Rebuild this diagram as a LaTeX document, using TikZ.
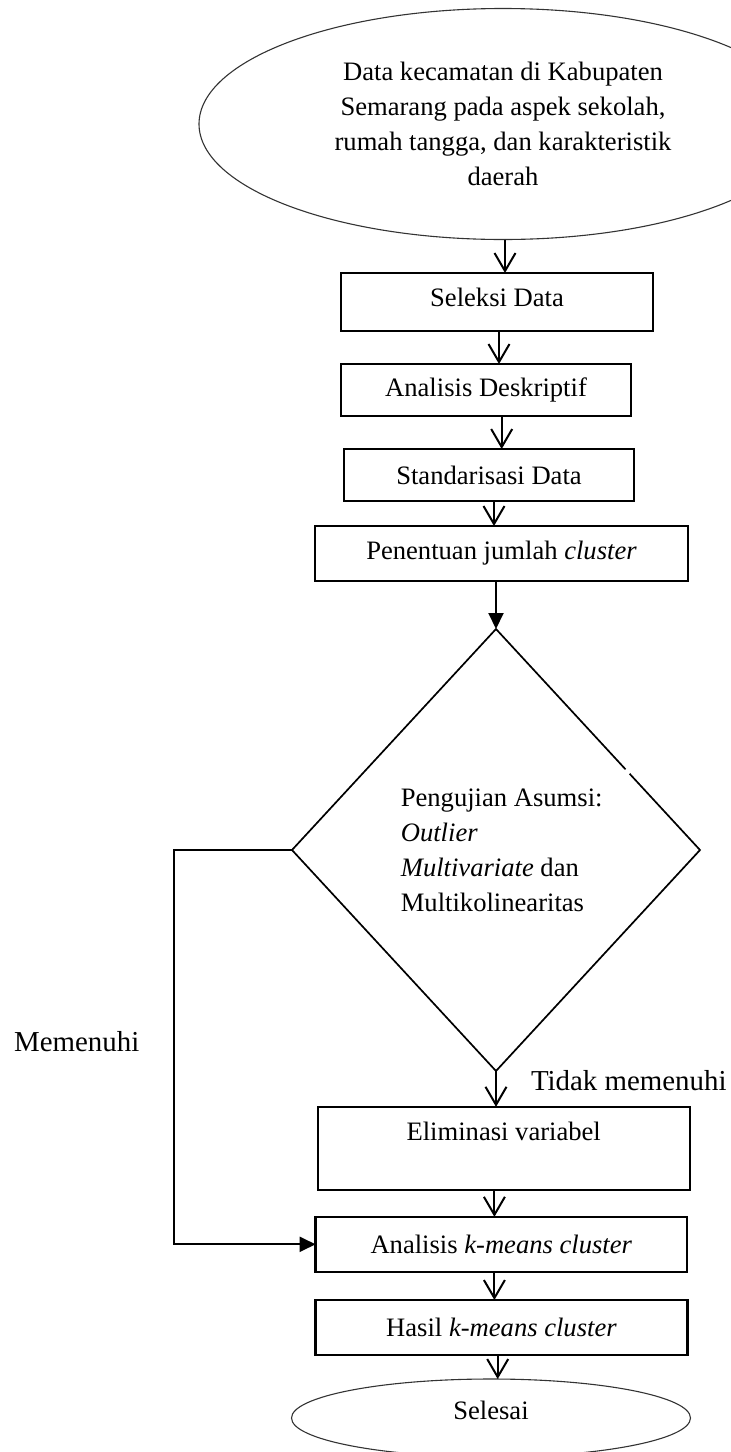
\documentclass[tikz,border=0pt]{standalone}
\usepackage{fontspec}
\setmainfont{Liberation Serif}
\usetikzlibrary{shapes.geometric,arrows.meta,calc}
\begin{document}
\begin{tikzpicture}[x=0.5pt,y=-0.5pt,
  boxtxt/.style={font=\fontsize{13.3}{17.5}\selectfont},
  box/.style={boxtxt, draw, line width=1.2pt, rectangle, inner sep=0pt, outer sep=0pt},
  oval/.style={boxtxt, draw=black!80, line width=0.55pt, ellipse, inner sep=0pt, outer sep=0pt},
  arr/.style={line width=1pt, -{Straight Barb[length=9pt,width=10.5pt]}},
  arrF/.style={line width=1pt, -{Triangle[length=8pt,width=7.5pt]}},
  lbl/.style={font=\fontsize{14.45}{17}\selectfont, inner sep=0pt}
]
\useasboundingbox (0,0) rectangle (731,1452);
\clip (0,0) rectangle (731,1452);

% nodes
\node[oval, minimum width=304pt, minimum height=115.5pt, align=center] (src) at (503,124)
  {Data kecamatan di Kabupaten\\Semarang pada aspek sekolah,\\rumah tangga, dan karakteristik\\daerah};
\node[box, minimum width=156pt, minimum height=29pt, text depth=4.5pt] (sel) at (497,302) {Seleksi Data};
\node[box, minimum width=145pt, minimum height=26pt] (ana) at (486,390) {Analisis Deskriptif};
\node[box, minimum width=145pt, minimum height=26pt] (std) at (489,475) {Standarisasi Data};
\node[box, minimum width=186.5pt, minimum height=27.5pt] (pen) at (501.5,553.5) {Penentuan jumlah \textit{cluster}};
\node[diamond, minimum width=204pt, minimum height=221pt, inner sep=0pt, outer sep=0pt] (dec) at (496,850) {};
\node[boxtxt, align=left, inner sep=0pt] (dectext) at ([xshift=2.85pt]dec.center)
  {Pengujian Asumsi:\\\textit{Outlier}\\\textit{Multivariate} dan\\Multikolinearitas};
\node[box, minimum width=186pt, minimum height=41.5pt, text depth=16.6pt] (elim) at (503.7,1148.3) {Eliminasi variabel};
\node[box, minimum width=185.7pt, minimum height=27.5pt] (km) at (501.3,1244.3) {Analisis \textit{k-means cluster}};
\node[box, minimum width=186pt, minimum height=27.5pt] (has) at (501.5,1327.5) {Hasil \textit{k-means cluster}};
\node[oval, minimum width=199.5pt, minimum height=39pt, text depth=8pt] (fin) at (491,1418) {Selesai};

\node[lbl, anchor=base] (yes) at (76.7,1051.7) {Memenuhi};
\node[lbl, anchor=base] (no) at (628.8,1090.7) {Tidak memenuhi};

% diamond outline (with the small gap on the upper right edge)
\draw[line width=0.85pt, line join=miter]
  ($(dec.north)!0.655!(dec.east)$) -- (dec.east) -- (dec.south) -- (dec.west) -- (dec.north)
  -- ($(dec.north)!0.635!(dec.east)$);

% connectors
\draw[arr] ([xshift=1pt]src.south) -- ([xshift=1pt]src.south |- sel.north);
\draw[arr] ([xshift=1pt]sel.south) -- ([xshift=1pt]sel.south |- ana.north);
\draw[arr] ([xshift=7.85pt]ana.south) -- ([xshift=7.85pt]ana.south |- std.north);
\draw[arr] ([xshift=2.5pt]std.south) -- ([xshift=2.5pt]std.south |- pen.north);
\draw[arrF] (pen.south -| dec.north) -- (dec.north);
\draw[arr] (dec.south) -- (dec.south |- elim.north);
\draw[arr] ([xshift=-4.65pt]elim.south) -- ([xshift=-4.65pt]elim.south |- km.north);
\draw[arr] ([xshift=-3.45pt]km.south) -- ([xshift=-3.45pt]km.south |- has.north);
\draw[arr] ([xshift=-1.9pt]has.south) -- ([xshift=-1.9pt]has.south |- fin.north);
\coordinate (bend) at (174,850);
\draw[arrF] (dec.west) -- (bend) |- (km.west);
\end{tikzpicture}
\end{document}
